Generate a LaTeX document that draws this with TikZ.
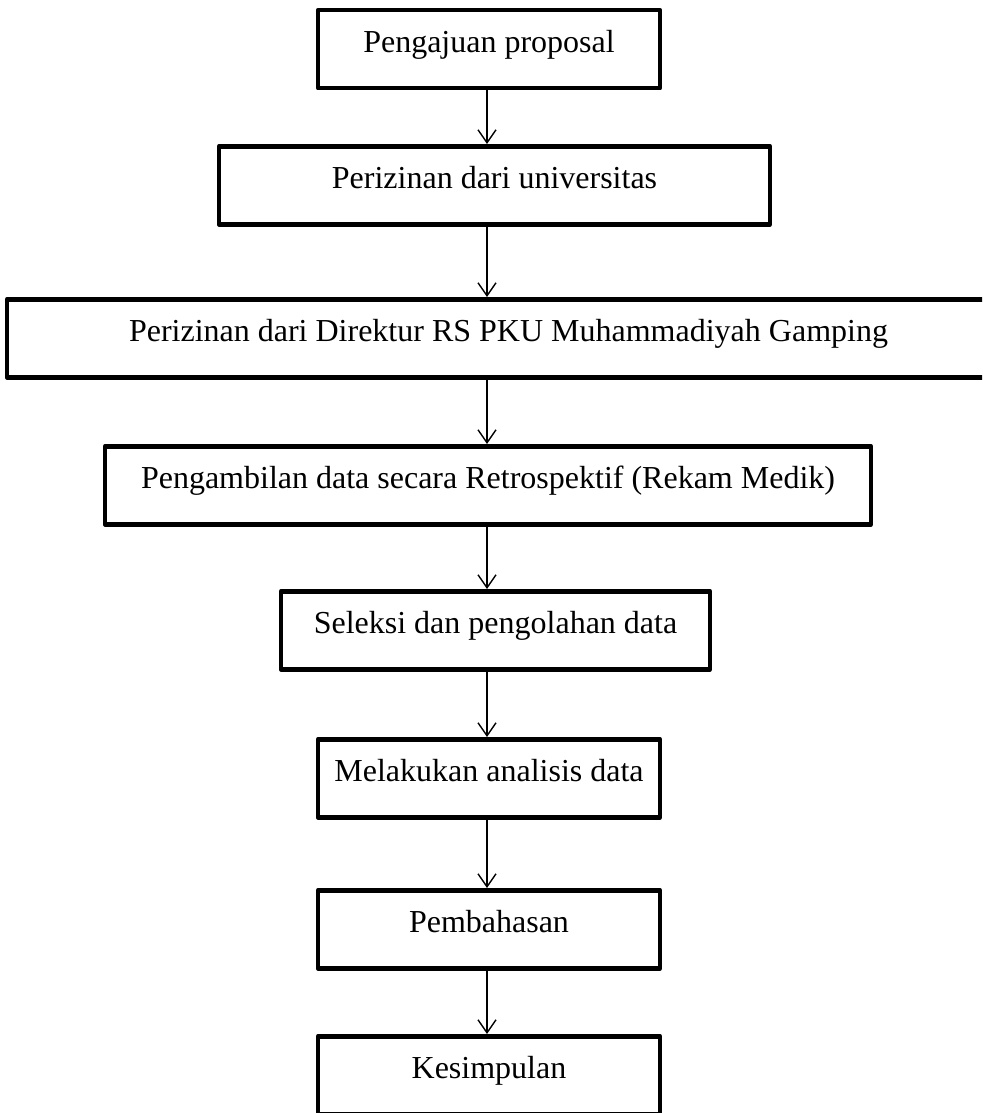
\documentclass[tikz,border=0pt]{standalone}
\usepackage{fontspec}
\setmainfont{Liberation Serif}
\usetikzlibrary{arrows.meta}
\begin{document}
\begin{tikzpicture}[>={Straight Barb[length=6.5pt,width=9pt]},line join=round,x=0.5pt,y=-0.5pt,
font=\fontsize{16}{19}\selectfont,
kotak/.style={draw,line width=2.25pt,inner sep=0pt,anchor=north,minimum height=39pt,text height=21pt,text depth=18pt},
panah/.style={->,line width=0.7pt}]
\clip (0,0) rectangle (982,1113);
\coordinate (ax) at (487,0);
% kotak alur penelitian
\node[kotak,minimum width=171pt] (b1) at (489,8) {Pengajuan proposal};
\node[kotak,minimum width=275.5pt] (b2) at (494.5,144) {Perizinan dari universitas};
\node[kotak,minimum width=501.5pt] (b3) at (508.5,297) {Perizinan dari Direktur RS PKU Muhammadiyah Gamping};
\node[kotak,minimum width=383pt] (b4) at (488,444) {Pengambilan data secara Retrospektif (Rekam Medik)};
\node[kotak,minimum width=214.5pt] (b5) at (495.5,589) {Seleksi dan pengolahan data};
\node[kotak,minimum width=171pt] (b6) at (489,737) {Melakukan analisis data};
\node[kotak,minimum width=171pt] (b7) at (489,888) {Pembahasan};
\node[kotak,minimum width=171pt] (b8) at (489,1034) {Kesimpulan};
% panah
\draw[panah] (b1.south -| ax) -- (b2.north -| ax);
\draw[panah] (b2.south -| ax) -- (b3.north -| ax);
\draw[panah] (b3.south -| ax) -- (b4.north -| ax);
\draw[panah] (b4.south -| ax) -- (b5.north -| ax);
\draw[panah] (b5.south -| ax) -- (b6.north -| ax);
\draw[panah] (b6.south -| ax) -- (b7.north -| ax);
\draw[panah] (b7.south -| ax) -- (b8.north -| ax);
\end{tikzpicture}
\end{document}
